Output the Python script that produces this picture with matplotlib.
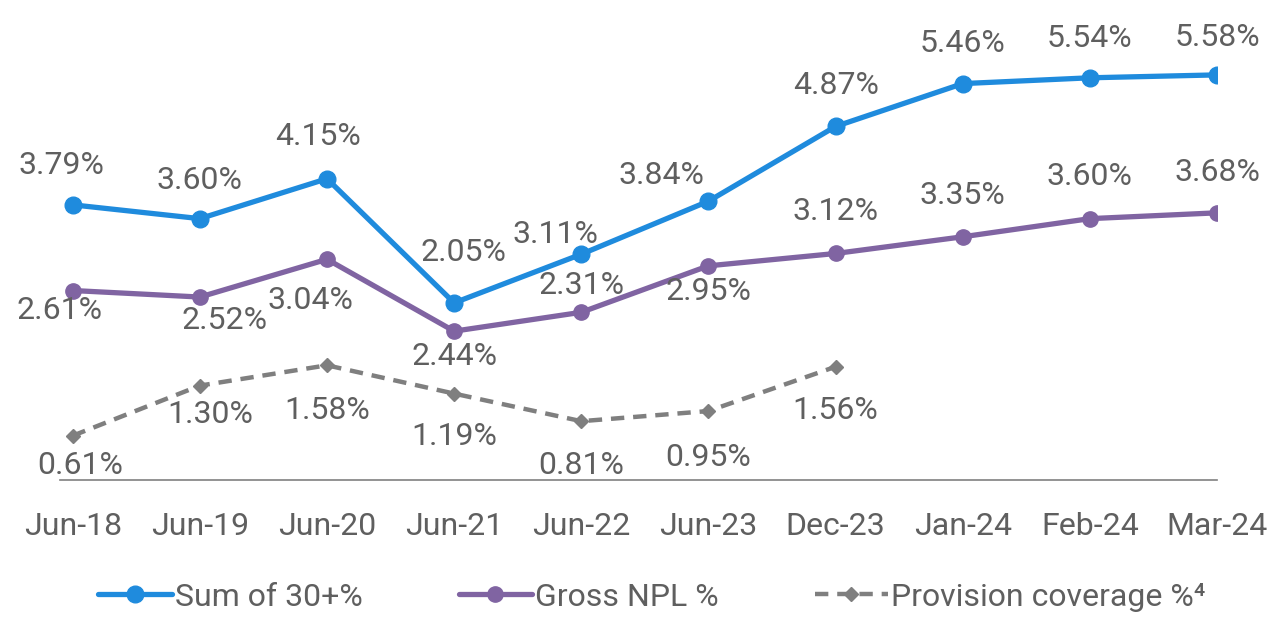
import numpy as np
import matplotlib
matplotlib.use("Agg")
import matplotlib.pyplot as plt

plt.rcParams['font.family'] = ['Roboto', 'DejaVu Sans']

categories = ["Jun-18", "Jun-19", "Jun-20", "Jun-21", "Jun-22", "Jun-23",
              "Dec-23", "Jan-24", "Feb-24", "Mar-24"]
sum30 = [3.79, 3.60, 4.15, 2.44, 3.11, 3.84, 4.87, 5.46, 5.54, 5.58]
gross_npl = [2.61, 2.52, 3.04, 2.05, 2.31, 2.95, 3.12, 3.35, 3.60, 3.68]
provision = [0.61, 1.30, 1.58, 1.19, 0.81, 0.95, 1.56]

# label offsets in pixels (dx, dy downward positive)
sum30_off = [(-11, -39), (0, -38), (-9, -42), (0, 54), (-26, -20), (-47, -26),
             (0, -41), (0, -40), (0, -39), (0, -37)]
npl_off = [(-13, 20), (25, 23), (-17, 41), (9, -79), (0, -27), (0, 26),
           (0, -42), (0, -41), (0, -42), (0, -40)]
prov_off = [(7, 30), (10, 29), (0, 45), (0, 43), (0, 44), (0, 46), (0, 44)]

blue = "#1F8BDD"
purple = "#8064A2"
grey = "#7F7F7F"
text_c = "#5F5F5F"

fig = plt.figure(figsize=(12.71, 6.18), dpi=100)
ax = fig.add_axes([60 / 1271, 1 - 480 / 618, (1217 - 60) / 1271, 480 / 618])

x = np.arange(len(categories))
ax.plot(x, sum30, color=blue, lw=3.8, marker='o', ms=12, label="Sum of 30+%",
        solid_capstyle='round', zorder=3)
ax.plot(x, gross_npl, color=purple, lw=3.8, marker='o', ms=11, label="Gross NPL %",
        solid_capstyle='round', zorder=3)
ax.plot(x[:len(provision)], provision, color=grey, lw=3.2, ls=(0, (3, 2)),
        marker='D', ms=7.5, label="Provision coverage %\u2074", zorder=3)

px = 72 / 100
for series, offs in ((sum30, sum30_off), (gross_npl, npl_off), (provision, prov_off)):
    for i, (v, (dx, dy)) in enumerate(zip(series, offs)):
        ax.annotate(f"{v:.2f}%", (x[i], v), xytext=(dx * px, -dy * px),
                    textcoords='offset points', ha='center', va='center',
                    fontsize=23, color=text_c, zorder=4)

ax.set_xlim(-0.1, 9.0)
ax.set_ylim(0, 480 / 72.6)
ax.set_xticks(x)
ax.set_xticklabels(categories, fontsize=23, color=text_c)
ax.tick_params(axis='x', length=0, pad=23)
ax.set_yticks([])
for s in ('top', 'right', 'left'):
    ax.spines[s].set_visible(False)
ax.spines['bottom'].set_color('#808080')
ax.spines['bottom'].set_linewidth(1.2)

leg = fig.legend(loc='center', bbox_to_anchor=(652 / 1271, 1 - 597 / 618), ncol=3,
                 frameon=False, prop={'size': 23},
                 handlelength=2.3, handletextpad=0.1, columnspacing=3.0)
for t in leg.get_texts():
    t.set_color(text_c)

fig.savefig("out.png", dpi=100)
